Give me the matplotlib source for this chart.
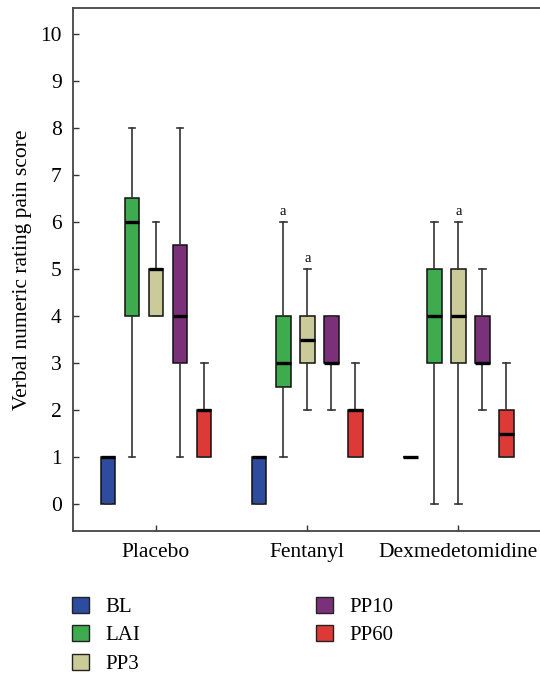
import matplotlib
matplotlib.use("Agg")
import matplotlib.pyplot as plt
from matplotlib.patches import Patch

plt.rcParams['font.family'] = ['Liberation Serif', 'DejaVu Serif']

groups = ['Placebo', 'Fentanyl', 'Dexmedetomidine']
series = ['BL', 'LAI', 'PP3', 'PP10', 'PP60']
colors = ['#2e4c9f', '#3eac4e', '#cbca99', '#7b3179', '#dd3937']

# per group, per series: (whislo, q1, median, q3, whishi)
placebo = [(0, 0, 1, 1, 1), (1, 4, 6, 6.5, 8), (4, 4, 5, 5, 6), (1, 3, 4, 5.5, 8), (1, 1, 2, 2, 3)]
fentanyl = [(0, 0, 1, 1, 1), (1, 2.5, 3, 4, 6), (2, 3, 3.5, 4, 5), (2, 3, 3, 4, 4), (1, 1, 2, 2, 3)]
dexmed = [(1, 1, 1, 1, 1), (0, 3, 4, 5, 6), (0, 3, 4, 5, 6), (2, 3, 3, 4, 5), (1, 1, 1.5, 2, 3)]
data = [placebo, fentanyl, dexmed]

# significance marks: (group index, series index)
marks = [(1, 1), (1, 2), (2, 2)]

fig = plt.figure(figsize=(5.4, 6.74), dpi=100)
ax = fig.add_axes([0.135, 0.2122, 0.865, 0.776])

step = 0.159
width = 0.097
for g, grp in enumerate(data):
    for s, (lo, q1, med, q3, hi) in enumerate(grp):
        pos = g + 1 + (s - 2) * step
        stats = [dict(whislo=lo, q1=q1, med=med, q3=q3, whishi=hi, fliers=[])]
        ax.bxp(stats, positions=[pos], widths=width, patch_artist=True,
               capwidths=0.045,
               boxprops=dict(facecolor=colors[s], edgecolor='#111111', linewidth=1.1),
               medianprops=dict(color='black', linewidth=2.4, solid_capstyle='butt'),
               whiskerprops=dict(color='#333333', linewidth=1.2),
               capprops=dict(color='#333333', linewidth=1.2),
               manage_ticks=False)

for g, s in marks:
    pos = g + 1 + (s - 2) * step
    ax.text(pos, data[g][s][4] + 0.08, 'a', ha='center', va='bottom', fontsize=10.5)

ax.set_xlim(0.45, 3.54)
ax.set_ylim(-0.57, 10.55)
ax.set_yticks(range(0, 11))
ax.set_xticks([1, 2, 3])
ax.set_xticklabels(groups)
ax.tick_params(direction='in', labelsize=15.5, length=4, width=1, color='#333333')
ax.tick_params(axis='y', pad=8)
ax.tick_params(axis='x', pad=9)
ax.set_ylabel('Verbal numeric rating pain score', fontsize=15.5, labelpad=6)

ax.spines['right'].set_visible(False)
for side in ['left', 'top', 'bottom']:
    ax.spines[side].set_color('#444444')
    ax.spines[side].set_linewidth(1.3)

handles = [Patch(facecolor=c, edgecolor='#222222', linewidth=1) for c in colors]
fig.legend(handles, series, loc='upper left', bbox_to_anchor=(0.126, 0.121),
           ncol=2, frameon=False, fontsize=15, handlelength=0.8, handleheight=0.8,
           labelspacing=0.4, columnspacing=8.45, handletextpad=0.8,
           borderaxespad=0, borderpad=0.2)

fig.savefig('out.png', dpi=100)
